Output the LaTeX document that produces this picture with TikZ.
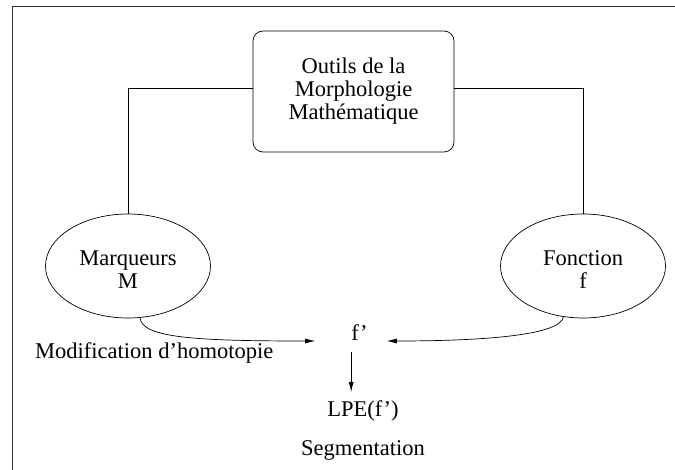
\documentclass[tikz,border=0pt]{standalone}
\usepackage{fontspec}
\setmainfont{Liberation Serif}
\usetikzlibrary{arrows.meta,shapes.geometric}
\begin{document}
\begin{tikzpicture}[x=1pt,y=-1pt,
  every node/.style={font=\fontsize{22.5}{23}\selectfont, inner sep=0pt},
  boxstyle/.style={draw, line width=0.7pt, rounded corners=10pt, minimum width=201pt, minimum height=121pt, align=center},
  ellstyle/.style={draw, line width=0.7pt, ellipse, minimum width=165pt, minimum height=104pt, align=center},
  link/.style={line width=0.7pt},
  arr/.style={line width=0.7pt, -{Latex[length=10pt,width=5pt]}}]
\useasboundingbox (0,0) rectangle (675,470);
\draw[line width=1pt, black!80] (12,470) -- (12,7) -- (675,7);

\node[boxstyle] (outils) at (353.5,91.5) {Outils de la\\Morphologie\\Mathématique};
\node[ellstyle] (marq) at (128,266) {\rule{0pt}{23pt}Marqueurs\\M};
\node[ellstyle] (fonc) at (583,266) {\rule{0pt}{23pt}Fonction\\f};
\node[anchor=base] (fp) at (359.5,341) {f'};
\node[anchor=base, inner ysep=8pt] (lpe) at (363,416) {LPE(f')};
\node[anchor=base] (seg) at (363,455) {Segmentation};
\node[anchor=base west] (modif) at (35,359) {Modification d'homotopie};

\coordinate (hl) at (0,88);
\draw[link] (outils.west |- hl) -| (marq.north);
\draw[link] (outils.east |- hl) -| (fonc.north);

\draw[arr] (marq.-77) .. controls +(2,20) and +(-120,0) .. ([xshift=-36pt]fp.base west);
\draw[arr] (fonc.-111) .. controls +(-3,18) and +(100,0) .. ([xshift=19pt]fp.base east);
\draw[arr] ([yshift=-11pt]fp.base west) -- (fp.base west |- lpe.north);
\end{tikzpicture}
\end{document}
